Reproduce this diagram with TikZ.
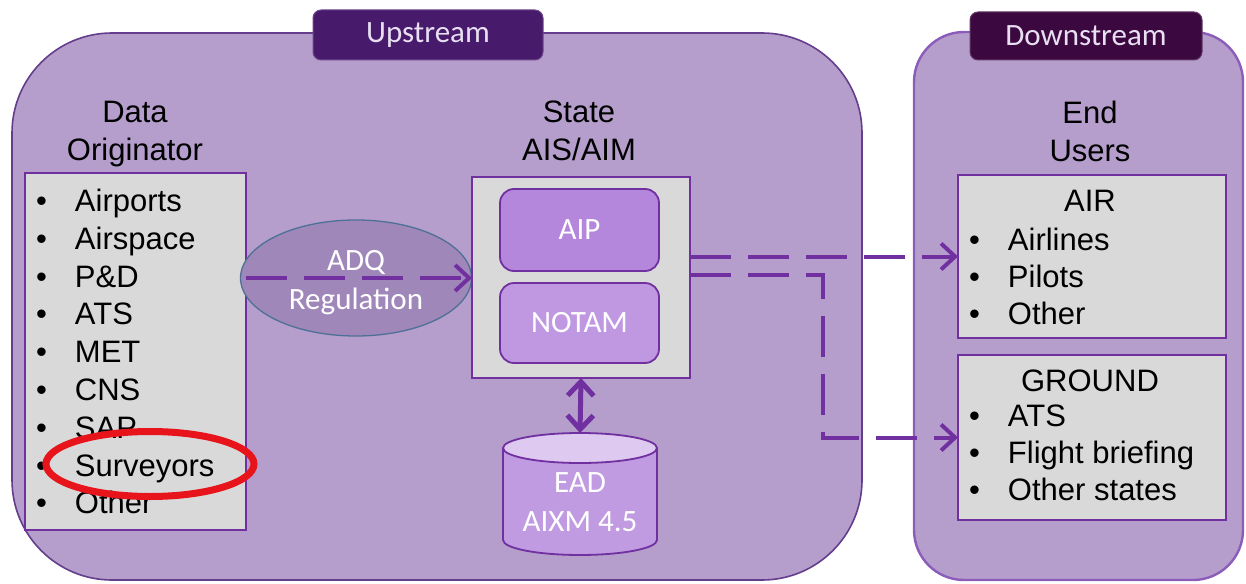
\documentclass[tikz,border=0pt]{standalone}
\usepackage{fontspec}
\setmainfont{Liberation Sans}
\newfontfamily\calfont{Carlito}
\usetikzlibrary{arrows.meta,shapes.geometric}
\definecolor{panel}{RGB}{181,158,204}
\definecolor{panelborderA}{RGB}{100,62,140}
\definecolor{panelborderB}{RGB}{140,92,186}
\definecolor{tabA}{RGB}{72,26,108}
\definecolor{tabB}{RGB}{60,8,64}
\definecolor{tabtext}{RGB}{232,224,242}
\definecolor{boxgray}{RGB}{217,217,217}
\definecolor{purp}{RGB}{112,48,160}
\definecolor{aipfill}{RGB}{180,135,220}
\definecolor{notamfill}{RGB}{192,152,226}
\definecolor{cylbody}{RGB}{192,155,226}
\definecolor{cyltop}{RGB}{222,202,240}
\definecolor{adqfill}{RGB}{160,135,186}
\definecolor{adqborder}{RGB}{78,112,150}
\definecolor{redring}{RGB}{232,20,28}
\newcommand{\bul}{\makebox[39pt][l]{\textbullet}}
\begin{document}
\begin{tikzpicture}[x=1pt,y=-1pt,
  every node/.style={inner sep=0pt,outer sep=0pt},
  titletext/.style={font=\fontsize{31}{37.8}\selectfont,align=center,text=black,anchor=north},
  listtext/.style={font=\fontsize{31}{37.8}\selectfont,align=left,text=black,anchor=north west},
  whitetext/.style={font=\calfont\fontsize{31}{39}\selectfont,text=white,align=center},
  graybox/.style={draw=purp,line width=1.8pt,fill=boxgray},
  tabbox/.style={rounded corners=8pt,font=\calfont\fontsize{31}{37}\selectfont,text=tabtext},
  innerbox/.style={draw=purp,line width=1.8pt,rounded corners=14pt,whitetext},
  flow/.style={draw=purp,line width=4pt,dash pattern=on 41pt off 17pt,-{Straight Barb[length=14pt,width=26pt]}},
  dflow/.style={draw=purp,line width=4pt,dash pattern=on 41pt off 17pt}
]
\useasboundingbox (0,0) rectangle (1246,583);

% panels
\node[draw=panelborderA,line width=1.6pt,fill=panel,rounded corners=100pt,minimum width=850pt,minimum height=547pt] (up) at (437,306.5) {};
\node[draw=panelborderB,line width=2.4pt,fill=panel,rounded corners=50pt,minimum width=329pt,minimum height=548pt] (down) at (1078.5,306) {};
\node[tabbox,fill=tabA,draw=tabA!80!white,line width=1pt,minimum width=230pt,minimum height=50pt] (uptab) at (428,35) {Upstream};
\node[tabbox,fill=tabB,draw=tabB!80!white,line width=1pt,minimum width=232pt,minimum height=48pt] (downtab) at (1086,36) {Downstream};

% titles
\node[titletext] (origtitle) at (135,101) {Data\\Originator};
\node[titletext] (aistitle) at (579,101) {State\\AIS/AIM};
\node[titletext] (endtitle) at (1090,101) {End\\Users};

% data originator
\node[graybox,minimum width=221pt,minimum height=357pt,anchor=north west] (orig) at (25,173) {};
\node[listtext] (origlist) at (36,189) {\bul Airports\\\bul Airspace\\\bul P\&D\\\bul ATS\\\bul MET\\\bul CNS\\\bul SAP\\\bul Surveyors\\\bul Other};
\node[draw=redring,line width=7pt,ellipse,minimum width=208pt,minimum height=65pt] (ring) at (150,464) {};

% ADQ
\node[ellipse,fill=adqfill,draw=adqborder,line width=1.3pt,minimum width=231pt,minimum height=116pt] (adq) at (356,278) {};
\node[whitetext,anchor=north] (adqtext) at (356,250) {ADQ\\Regulation};

% AIS
\node[graybox,minimum width=218pt,minimum height=201pt] (ais) at (581,277.5) {};
\node[innerbox,fill=aipfill,minimum width=159pt,minimum height=82pt] (aip) at (579.5,230) {AIP};
\node[innerbox,fill=notamfill,minimum width=159pt,minimum height=80pt] (notam) at (579.5,323) {NOTAM};

% EAD cylinder
\node[minimum width=154pt,minimum height=122pt] (ead) at (580,494) {};
\fill[cylbody] (503,448) rectangle (657,540);
\fill[cylbody] (580,540) ellipse[x radius=77pt,y radius=15pt];
\draw[purp,line width=1.8pt] (503,448) -- (503,540) arc[start angle=180,end angle=360,x radius=77pt,y radius=15pt] -- (657,448);
\draw[purp,line width=1.8pt,fill=cyltop] (580,448) ellipse[x radius=77pt,y radius=15pt];
\node[whitetext,anchor=north] (eadtext) at (580,473) {EAD\\AIXM 4.5};

% end users
\node[graybox,minimum width=268pt,minimum height=163pt] (air) at (1092,256.5) {};
\node[graybox,minimum width=268pt,minimum height=165pt] (ground) at (1092,437.5) {};
\node[titletext] (airtitle) at (1090,190) {AIR};
\node[listtext,font=\fontsize{31}{37}\selectfont] (airlist) at (969,228) {\bul Airlines\\\bul Pilots\\\bul Other};
\node[titletext] (groundtitle) at (1090,370) {GROUND};
\node[listtext,font=\fontsize{31}{37}\selectfont] (groundlist) at (969,405) {\bul ATS\\\bul Flight briefing\\\bul Other states};

% connectors
\draw[flow] (orig.east |- adq.center) -- (ais.west |- adq.center);
\draw[draw=purp,line width=5pt,{Straight Barb[length=14pt,width=26pt]}-{Straight Barb[length=14pt,width=26pt]}] (ais.south) -- (ead.north);
\draw[flow] (ais.east |- air.west) -- (air.west);
\coordinate (bend) at (823,275);
\draw[flow] (ais.east |- bend) -- (bend) |- (ground.west);
\end{tikzpicture}
\end{document}
